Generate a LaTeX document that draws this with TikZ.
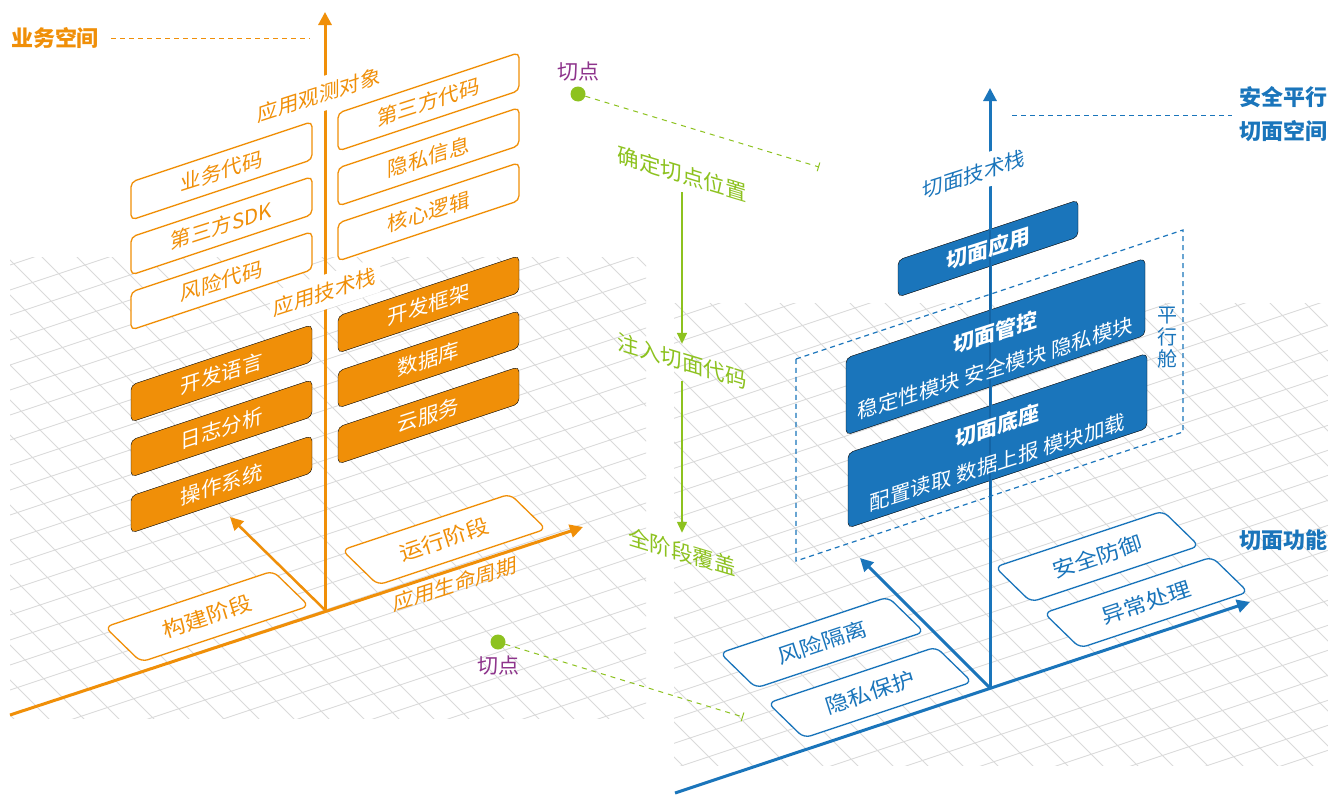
\documentclass[tikz,border=0pt]{standalone}
\usepackage{fontspec}
\setmainfont{Noto Sans CJK SC}
\usetikzlibrary{arrows.meta}
\definecolor{orng}{RGB}{240,143,8}
\definecolor{blu}{RGB}{26,117,187}
\definecolor{bluax}{RGB}{20,100,165}
\definecolor{grn}{RGB}{141,194,31}
\definecolor{purp}{RGB}{142,52,140}
\definecolor{gridc}{RGB}{218,218,218}
\newcommand\wlbox[5]{\draw[#1] (#2,#3) -- ++(#4,{-#4/3}) -- ++(0,#5) -- ++({-#4},{#4/3}) -- cycle;}
\newcommand\flbox[3]{\draw[#1] (#2,#3) -- ++(168,-56) -- ++(36,35) -- ++(-168,56) -- cycle;}
\begin{document}
\begin{tikzpicture}[x=1pt,y=-1pt,
  gridline/.style={draw=gridc, line width=0.9pt},
  obox/.style={draw=orng, fill=white, line width=1.3pt, rounded corners=5pt},
  ofill/.style={fill=orng, rounded corners=5pt},
  bfillbox/.style={fill=blu, rounded corners=5pt},
  ofloor/.style={draw=orng, fill=white, line width=1.3pt, rounded corners=7pt},
  bfloor/.style={draw=blu, fill=white, line width=1.3pt, rounded corners=7pt},
  walltxt/.style={transform shape, yslant=0.32, inner sep=0pt, font=\fontsize{20.5}{24}\selectfont},
  flrtxt/.style={transform shape, cm={1.08,0.36,-0.3,0.95,(0,0)}, inner sep=0pt, font=\fontsize{20.5}{24}\selectfont},
  gtxt/.style={transform shape, yslant=-0.3, inner sep=0pt, text=grn, font=\fontsize{21.5}{24}\selectfont},
  axlbl/.style={walltxt, fill=white, inner xsep=4pt, inner ysep=8pt},
  ttl/.style={font=\fontsize{22}{26}\selectfont\bfseries, inner sep=0pt},
  oaxis/.style={draw=orng, line width=3pt, -{Triangle[width=13pt,length=13pt]}},
  baxis/.style={draw=blu, line width=3pt, -{Triangle[width=13pt,length=13pt]}},
  garrow/.style={draw=grn, line width=1.5pt, -{Triangle[width=10pt,length=11pt]}},
  gdash/.style={draw=grn, line width=1pt, dash pattern=on 5pt off 5pt, -{Bar[width=9pt]}},
  dot/.style={circle, fill=grn, minimum size=15pt, inner sep=0pt},
  ptxt/.style={text=purp, inner sep=0pt, font=\fontsize{21}{24}\selectfont}
]
\useasboundingbox (0,0) rectangle (1328,795);
\fill[white] (0,0) rectangle (1328,795);

% ---------- grids ----------
\begin{scope}
\clip (10,257) rectangle (646,718);
\foreach \i in {-18,...,9} {\draw[gridline] (0,{610+25*\i+108.33}) -- (660,{610+25*\i-111.67});}
\foreach \i in {-12,...,19} {\pgfmathsetmacro\dd{-285+35*\i}\draw[gridline] ({\dd+250},250) -- ({\dd+720},720);}
\end{scope}
\begin{scope}
\clip (674,303) rectangle (1328,765);
\foreach \i in {-20,...,8} {\draw[gridline] (660,{688+25*\i+110}) -- (1340,{688+25*\i-116.67});}
\foreach \i in {-11,...,21} {\pgfmathsetmacro\dd{302+35*\i}\draw[gridline] ({\dd+300},300) -- ({\dd+770},770);}
\end{scope}

% ---------- left (orange) system ----------
\coordinate (OL) at (325,610);
\coordinate (OLtop) at (325,12);
\coordinate (OLl) at (10,715);
\coordinate (OLr) at (583,527);
\coordinate (OLb) at (230,517);
\draw[oaxis] (OL) -- (OLtop);
\draw[oaxis] (OLl) -- (OLr);
\draw[oaxis, line width=2.5pt] (OL) -- (OLb);

% floor boxes
\flbox{ofloor}{105}{627}
\node[flrtxt, text=orng] (f1) at (207,616.5) {构建阶段};
\flbox{ofloor}{342}{550}
\node[flrtxt, text=orng] (f2) at (444,539.5) {运行阶段};

% wall boxes outline
\wlbox{obox}{131}{182}{181}{38}
\node[walltxt, text=orng] (a1) at (221.5,170.8) {业务代码};
\wlbox{obox}{131}{237}{181}{38}
\node[walltxt, text=orng] (a2) at (221.5,225.8) {第三方SDK};
\wlbox{obox}{131}{292}{181}{38}
\node[walltxt, text=orng] (a3) at (221.5,280.8) {风险代码};
\wlbox{obox}{338}{113}{181}{38}
\node[walltxt, text=orng] (a4) at (428.5,101.8) {第三方代码};
\wlbox{obox}{338}{168}{181}{38}
\node[walltxt, text=orng] (a5) at (428.5,156.8) {隐私信息};
\wlbox{obox}{338}{223}{181}{38}
\node[walltxt, text=orng] (a6) at (428.5,211.8) {核心逻辑};
% wall boxes filled
\wlbox{ofill}{131}{385}{181}{37}
\node[walltxt, text=white] (b1) at (221.5,373.3) {开发语言};
\wlbox{ofill}{131}{440}{181}{37}
\node[walltxt, text=white] (b2) at (221.5,428.3) {日志分析};
\wlbox{ofill}{131}{496}{181}{37}
\node[walltxt, text=white] (b3) at (221.5,484.3) {操作系统};
\wlbox{ofill}{338}{316}{181}{37}
\node[walltxt, text=white] (b4) at (428.5,304.3) {开发框架};
\wlbox{ofill}{338}{371}{181}{37}
\node[walltxt, text=white] (b5) at (428.5,359.3) {数据库};
\wlbox{ofill}{338}{427}{181}{37}
\node[walltxt, text=white] (b6) at (428.5,415.3) {云服务};

% axis labels
\node[axlbl, text=orng] (l1) at (319,95) {应用观测对象};
\node[axlbl, text=orng] (l2) at (325,292) {应用技术栈};
\node[walltxt, text=orng] (l3) at (455,584) {应用生命周期};

% title
\node[ttl, text=orng] (t1) at (55,38) {业务空间};
\coordinate (t1e) at (310,38);
\draw[orng, line width=1pt, dash pattern=on 5pt off 4pt] ([xshift=12pt]t1.east) -- (t1e);

% ---------- green cut points ----------
\node[dot] (cp1) at (578,94) {};
\node[ptxt] (cp1t) at (578,72) {切点};
\coordinate (cp1e) at (819,167);
\draw[gdash] (cp1) -- (cp1e);
\node[dot] (cp2) at (498,642) {};
\node[ptxt] (cp2t) at (498,666) {切点};
\coordinate (cp2e) at (743,717);
\draw[gdash] (cp2) -- (cp2e);

\node[gtxt] (g1) at (682,174) {确定切点位置};
\node[gtxt] (g2) at (682,361) {注入切面代码};
\node[gtxt] (g3) at (682,552) {全阶段覆盖};
\draw[garrow, shorten <=8pt, shorten >=7pt] (g1.south) -- (g2.north);
\draw[garrow, shorten <=10pt, shorten >=9pt] (g2.south) -- (g3.north);

% ---------- right (blue) system ----------
\coordinate (OR) at (990,688);
\coordinate (ORtop) at (990,88);
\coordinate (ORl) at (675,793);
\coordinate (ORr) at (1250,602);
\coordinate (ORb) at (860,558);
\draw[baxis] (ORl) -- (ORr);
\draw[baxis] (OR) -- (ORb);

\flbox{bfloor}{995}{567}
\node[flrtxt, text=blu] (h1) at (1097,556.5) {安全防御};
\flbox{bfloor}{1044}{613}
\node[flrtxt, text=blu] (h2) at (1146,602.5) {异常处理};
\flbox{bfloor}{720}{653}
\node[flrtxt, text=blu] (h3) at (822,642.5) {风险隔离};
\flbox{bfloor}{768}{703}
\node[flrtxt, text=blu] (h4) at (870,692.5) {隐私保护};

\wlbox{bfillbox}{898}{260}{180}{37}
\wlbox{bfillbox}{846}{358}{299}{77}
\wlbox{bfillbox}{848}{453}{299}{75}
\draw[baxis] (OR) -- (ORtop);
\draw[bluax, line width=2.5pt] (990,230) -- (990,500);

\node[walltxt, text=white, font=\fontsize{21}{24}\selectfont\bfseries] (c1) at (988,248.5) {切面应用};
\node[walltxt, text=white, font=\fontsize{21}{24}\selectfont\bfseries] (c2) at (995.5,332) {切面管控};
\node[walltxt, text=white, font=\fontsize{20.5}{24}\selectfont] (c2b) at (995.5,368) {稳定性模块 安全模块 隐私模块};
\node[walltxt, text=white, font=\fontsize{21}{24}\selectfont\bfseries] (c3) at (997.5,425.5) {切面底座};
\node[walltxt, text=white, font=\fontsize{20.5}{24}\selectfont] (c3b) at (997.5,462.5) {配置读取 数据上报 模块加载};

\draw[blu, line width=1.2pt, dash pattern=on 5pt off 4pt] (796,359) -- (1183,230) -- (1183,432) -- (796,561) -- cycle;
\node[text=blu, align=center, inner sep=0pt, font=\fontsize{20}{22}\selectfont] (pc) at (1167,338) {平\\行\\舱};

\node[axlbl, text=blu] (l4) at (974,174) {切面技术栈};

\node[ttl, text=blu, anchor=east] (s1) at (1328,97) {安全平行};
\node[ttl, text=blu, anchor=east] (s2) at (1328,131) {切面空间};
\coordinate (bd1) at (1012,115);
\coordinate (bd2) at (1232,115);
\draw[blu, line width=1pt, dash pattern=on 5pt off 4pt] (bd1) -- (bd2);
\node[ttl, text=blu, anchor=east] (s3) at (1328,540) {切面功能};
\end{tikzpicture}
\end{document}
